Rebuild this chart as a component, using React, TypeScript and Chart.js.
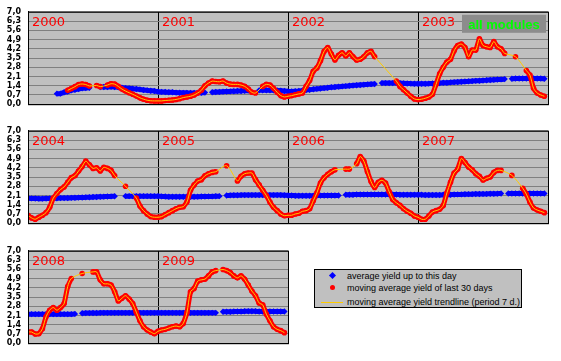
import React, { useEffect, useRef } from 'react';
import { Chart, registerables } from 'chart.js';
Chart.register(...registerables);

const YEARS = ['2000', '2001', '2002', '2003', '2004', '2005', '2006', '2007', '2008', '2009'];
const SAMPLES_PER_YEAR = 36;
const Y_TICKS = [0, 0.7, 1.4, 2.1, 2.8, 3.5, 4.2, 4.9, 5.6, 6.3, 7.0];
const ROWS = [[0, 1, 2, 3], [4, 5, 6, 7], [8, 9]];
const MODULES_LABEL = 'all modules';
const LEGEND_LABELS = [
  'average yield up to this day',
  'moving average yield of last 30 days',
  'moving average yield trendline (period 7 d.)',
];
const N = null;

// moving average yield of last 30 days (36 samples per year)
const RED_2000 = [N, N, N, N, N, N, N, N, N, N, N, 1.05, 1.19, 1.33, 1.49, 1.53, 1.49, 1.38, N, 1.42, 1.33, N, 1.45, 1.55, 1.52, 1.35, 1.15, 1.0, 0.87, 0.75, 0.62, 0.48, 0.38, 0.3, 0.26, 0.25];
const RED_2001 = [0.25, 0.25, 0.28, 0.3, 0.32, 0.36, 0.42, 0.5, 0.55, 0.6, 0.7, 0.85, 1.05, 1.4, 1.6, 1.75, 1.72, 1.7, 1.76, 1.6, 1.52, 1.5, 1.5, 1.45, 1.35, 1.15, 0.9, 0.85, N, 1.35, 1.5, 1.45, 1.2, 0.9, 0.65, 0.55];
const RED_2002 = [0.6, 0.65, 0.72, 0.78, 0.85, 1.35, 1.8, 2.5, 2.75, 3.3, 4.0, 4.3, 3.8, 3.35, 3.7, 3.9, 3.65, 3.9, 3.6, 3.35, 3.4, 3.6, 3.9, 4.0, 3.6, N, N, N, N, N, 1.75, 1.35, 1.1, 0.85, 0.6, 0.4];
const RED_2003 = [0.35, 0.38, 0.45, 0.55, 0.75, 1.5, 2.3, 2.8, 3.2, 3.4, 4.05, 4.45, 4.55, 4.3, 3.6, 4.1, 4.1, 4.95, 4.45, 4.35, 4.3, 4.75, 4.35, 4.2, 3.85, N, N, 3.6, N, N, 2.55, 2.2, 1.2, 0.85, 0.7, 0.6];
const RED_2004 = [0.6, 0.4, 0.3, 0.45, 0.6, 0.8, 1.2, 1.9, 2.25, 2.55, 2.75, 3.1, 3.45, 3.6, 3.95, 4.3, 4.7, 4.42, 4.15, 4.2, 3.96, 4.23, 4.15, 4.0, 3.6, N, N, 2.8, N, N, 1.9, 1.3, 0.95, 0.7, 0.5, 0.45];
const RED_2005 = [0.45, 0.5, 0.65, 0.8, 0.95, 1.1, 1.2, 1.25, 1.6, 2.5, 2.9, 3.2, 3.3, 3.6, 3.75, 3.85, 3.9, N, N, 4.35, N, N, 3.2, 3.55, 3.75, 3.8, 3.8, 3.3, 2.9, 2.5, 2.1, 1.6, 1.2, 0.95, 0.7, 0.57];
const RED_2006 = [0.6, 0.6, 0.7, 0.75, 0.9, 0.95, 1.1, 1.7, 2.3, 3.05, 3.45, 3.7, 3.9, 4.05, N, N, 4.1, 4.1, N, 4.5, 5.05, 4.7, 3.9, 3.15, 2.7, 3.1, 3.25, 3.05, 2.4, 1.8, 1.55, 1.35, 1.1, 0.9, 0.75, 0.55];
const RED_2007 = [0.45, 0.3, 0.3, 0.55, 0.85, 0.95, 1.05, 1.35, 2.3, 3.1, 3.8, 4.1, 4.9, 4.6, 4.25, 4.05, 3.75, 3.55, 3.27, 3.4, 3.5, 3.85, 4.0, 4.0, N, N, 3.62, N, N, 2.65, 2.2, 1.6, 1.15, 1.0, 0.9, 0.8];
const RED_2008 = [0.85, 0.85, 0.7, 0.72, 1.1, 2.0, 2.5, 2.7, 2.5, 2.7, 3.0, 4.3, 4.9, N, N, 5.28, N, N, 5.4, 5.4, 4.8, 4.5, 4.5, 4.4, 3.9, 3.2, 3.4, 3.6, 3.35, 3.0, 2.35, 1.7, 1.25, 1.0, 0.85, 0.72];
const RED_2009 = [0.9, 1.0, 1.05, 1.15, 1.25, 1.3, 1.25, 1.5, 2.3, 3.9, 4.15, 4.7, 4.8, 4.85, 5.1, 5.4, 5.5, N, 5.58, 5.5, 5.35, 5.1, 4.95, 5.1, 4.85, 4.4, 3.95, 3.6, 3.05, 2.9, 2.2, 1.7, 1.25, 1.05, 0.95, 0.8];

// average yield up to this day
const BLUE_2000 = [N, N, N, N, N, N, N, N, 0.8, 0.8, 0.9, 0.95, 1.05, 1.1, 1.15, 1.2, 1.22, 1.25, N, N, 1.3, 1.3, 1.3, 1.32, 1.3, 1.28, 1.25, 1.22, 1.2, 1.17, 1.15, 1.12, 1.08, 1.05, 1.02, 1.0];
const BLUE_2001 = [0.95, 0.93, 0.92, 0.9, 0.9, 0.88, 0.87, 0.86, 0.86, 0.85, 0.85, 0.86, 0.87, 0.88, N, 0.9, 0.92, 0.93, 0.95, 0.96, 0.97, 0.98, 1.0, 1.0, 1.02, 1.03, N, N, 1.05, 1.05, 1.05, 1.05, 1.05, 1.04, 1.03, 1.0];
const BLUE_2002 = [0.97, 0.97, 0.98, 1.0, 1.04, 1.08, 1.1, 1.13, 1.16, 1.19, 1.22, 1.25, 1.28, 1.3, 1.33, 1.35, 1.37, 1.4, 1.42, 1.44, 1.46, 1.48, 1.5, 1.52, 1.53, N, 1.6, 1.6, 1.6, 1.6, 1.6, 1.6, 1.58, 1.57, 1.56, 1.55];
const BLUE_2003 = [1.55, 1.55, 1.55, 1.56, 1.57, 1.58, 1.6, 1.62, 1.63, 1.65, 1.67, 1.68, 1.7, 1.72, 1.73, 1.75, 1.77, 1.78, 1.8, 1.82, 1.83, 1.85, 1.87, 1.88, 1.9, N, 1.93, 1.95, 1.95, 1.95, 1.95, 1.95, 1.95, 1.95, 1.95, 1.93];
const BLUE_2004 = [1.9, 1.88, 1.87, 1.86, 1.86, 1.87, 1.88, 1.88, 1.89, 1.9, 1.9, 1.91, 1.92, 1.93, 1.94, 1.95, 1.96, 1.97, 1.98, 1.99, 2.0, 2.01, 2.02, 2.03, 2.04, N, N, 2.05, 2.05, 2.05, 2.05, 2.05, 2.05, 2.05, 2.05, 2.05];
const BLUE_2005 = [2.05, 2.03, 2.02, 2.0, 2.0, 2.0, 2.0, 2.0, 2.0, 2.0, 2.0, 2.01, 2.02, 2.02, 2.03, 2.03, 2.04, 2.05, N, 2.1, 2.11, 2.12, 2.12, 2.13, 2.13, 2.13, 2.13, 2.13, 2.13, 2.13, 2.13, 2.13, 2.13, 2.13, 2.13, 2.12];
const BLUE_2006 = [2.1, 2.1, 2.08, 2.08, 2.08, 2.08, 2.08, 2.08, 2.09, 2.09, 2.1, 2.1, 2.1, 2.1, 2.1, N, 2.15, 2.16, 2.16, 2.17, 2.17, 2.17, 2.17, 2.17, 2.17, 2.17, 2.17, 2.17, 2.17, 2.17, 2.17, 2.16, 2.16, 2.16, 2.15, 2.15];
const BLUE_2007 = [2.15, 2.15, 2.14, 2.14, 2.14, 2.14, 2.14, 2.15, 2.15, 2.16, 2.17, 2.18, 2.18, 2.19, 2.2, 2.2, 2.21, 2.21, 2.22, 2.22, 2.23, 2.23, 2.24, 2.25, N, 2.25, 2.25, 2.25, 2.25, 2.25, 2.25, 2.25, 2.25, 2.25, 2.25, 2.25];
const BLUE_2008 = [2.2, 2.2, 2.2, 2.2, 2.2, 2.2, 2.2, 2.2, 2.2, 2.2, 2.2, 2.2, 2.2, 2.22, N, 2.27, 2.28, 2.28, 2.29, 2.29, 2.3, 2.3, 2.3, 2.3, 2.3, 2.3, 2.3, 2.3, 2.3, 2.3, 2.3, 2.3, 2.3, 2.3, 2.3, 2.3];
const BLUE_2009 = [2.3, 2.3, 2.3, 2.3, 2.3, 2.3, 2.3, 2.3, 2.3, 2.3, 2.3, 2.3, 2.3, 2.3, 2.3, 2.3, 2.3, N, 2.38, 2.38, 2.38, 2.4, 2.4, 2.4, 2.42, 2.42, 2.42, 2.42, 2.4, 2.4, 2.4, 2.4, 2.4, 2.4, 2.4, 2.4];

const RED_SERIES = [RED_2000, RED_2001, RED_2002, RED_2003, RED_2004, RED_2005, RED_2006, RED_2007, RED_2008, RED_2009];
const BLUE_SERIES = [BLUE_2000, BLUE_2001, BLUE_2002, BLUE_2003, BLUE_2004, BLUE_2005, BLUE_2006, BLUE_2007, BLUE_2008, BLUE_2009];

const BG = '#C0C0C0';
const RED = '#FF0000';
const BLUE = '#0000FF';
const YELLOW = '#FFCC00';

function toPoints(series: (number | null)[][], yearIdx: number[]) {
  const pts: { x: number; y: number | null }[] = [];
  yearIdx.forEach((yi, k) => {
    series[yi].forEach((v, i) => pts.push({ x: k + i / SAMPLES_PER_YEAR, y: v }));
  });
  return pts;
}

function Panel({ yearIdx, top, plotRight, showModules }: { yearIdx: number[]; top: number; plotRight: number; showModules: boolean }) {
  const ref = useRef<HTMLCanvasElement>(null);
  useEffect(() => {
    const canvas = ref.current!;
    const n = yearIdx.length;
    const W = 561;
    const H = 116;
    const plugin = {
      id: 'panelDeco',
      beforeDraw(chart: any) {
        const { ctx, chartArea: a } = chart;
        ctx.save();
        ctx.fillStyle = BG;
        ctx.fillRect(a.left, a.top, a.right - a.left, a.bottom - a.top);
        ctx.restore();
      },
      afterDraw(chart: any) {
        const { ctx, chartArea: a } = chart;
        const xs = chart.scales.x;
        ctx.save();
        ctx.strokeStyle = '#000';
        ctx.lineWidth = 1;
        ctx.strokeRect(a.left + 0.5, a.top + 0.5, a.right - a.left, a.bottom - a.top);
        ctx.font = '13px "DejaVu Sans"';
        ctx.fillStyle = RED;
        ctx.textBaseline = 'alphabetic';
        ctx.textAlign = 'left';
        yearIdx.forEach((yi, k) => {
          ctx.fillText(YEARS[yi], xs.getPixelForValue(k) + 4, a.top + 14);
        });
        if (showModules) {
          const bx = a.right - 86;
          const by = a.top + 3;
          ctx.fillStyle = '#8C8C8C';
          ctx.fillRect(bx, by, 84, 18);
          ctx.fillStyle = '#00FF00';
          ctx.font = 'bold 13px "Liberation Sans", Arial';
          ctx.textAlign = 'center';
          ctx.fillText(MODULES_LABEL, bx + 42, a.top + 17.5);
        }
        ctx.restore();
      },
    };
    const chart = new Chart(canvas, {
      type: 'line',
      data: {
        datasets: [
          {
            label: 'trend',
            data: toPoints(RED_SERIES, yearIdx),
            borderColor: YELLOW,
            borderWidth: 1,
            pointRadius: 0,
            spanGaps: true,
            tension: 0.3,
            order: 0,
          },
          {
            label: 'moving',
            data: toPoints(RED_SERIES, yearIdx),
            borderColor: RED,
            backgroundColor: RED,
            borderWidth: 5,
            pointRadius: 2.8,
            pointBorderWidth: 0,
            spanGaps: false,
            tension: 0.1,
            order: 1,
          },
          {
            label: 'average',
            data: toPoints(BLUE_SERIES, yearIdx),
            borderColor: BLUE,
            backgroundColor: BLUE,
            borderWidth: 5,
            pointStyle: 'rectRot',
            pointRadius: 3.2,
            pointBorderWidth: 0,
            spanGaps: false,
            tension: 0.2,
            order: 2,
          },
        ],
      } as any,
      options: {
        responsive: false,
        animation: false,
        devicePixelRatio: 1,
        layout: { padding: { left: 0, right: W - plotRight, top: 8, bottom: H - 110 } },
        plugins: { legend: { display: false }, tooltip: { enabled: false } },
        scales: {
          x: {
            type: 'linear',
            min: 0,
            max: n,
            afterBuildTicks: (s: any) => {
              s.ticks = Array.from({ length: n + 1 }, (_, k) => ({ value: k }));
            },
            afterFit: (s: any) => {
              s.height = 0;
            },
            ticks: { display: false, autoSkip: false },
            grid: { color: '#000', drawTicks: false },
            border: { color: '#000' },
          },
          y: {
            min: 0,
            max: 7,
            afterBuildTicks: (s: any) => {
              s.ticks = Y_TICKS.map((v) => ({ value: v }));
            },
            afterFit: (s: any) => {
              s.width = 28;
            },
            ticks: {
              autoSkip: false,
              callback: (v: any) => Number(v).toFixed(1).replace('.', ','),
              font: { family: 'DejaVu Sans', size: 8, weight: 'bold' },
              color: '#000',
              padding: 7,
            },
            grid: { color: '#808080', drawTicks: false },
            border: { color: '#000' },
          },
        },
      } as any,
      plugins: [plugin],
    });
    return () => chart.destroy();
  }, []);
  return (
    <canvas
      ref={ref}
      width={561}
      height={116}
      style={{ position: 'absolute', left: 0, top, width: 561, height: 116 }}
    />
  );
}

function Legend() {
  const rows = [6.7, 18.7, 32.7];
  return (
    <div
      style={{
        position: 'absolute',
        left: 314,
        top: 269,
        width: 208,
        height: 39,
        boxSizing: 'border-box',
        border: '1px solid #000',
        background: BG,
        fontFamily: '"Liberation Sans", Arial, sans-serif',
        fontSize: 9,
        color: '#000',
      }}
    >
      <div style={{ position: 'absolute', left: 17 - 2.5, top: rows[0] - 1 - 2.5, width: 5, height: 5, background: BLUE, transform: 'rotate(45deg)' }} />
      <div style={{ position: 'absolute', left: 17 - 2.5, top: rows[1] - 1 - 2.5, width: 5, height: 5, background: RED, borderRadius: '50%' }} />
      <div style={{ position: 'absolute', left: 6, top: rows[2] - 1, width: 22, height: 1, background: YELLOW }} />
      {LEGEND_LABELS.map((t, i) => (
        <div
          key={t}
          style={{ position: 'absolute', left: 32, top: rows[i] - 1 - 6, height: 12, lineHeight: '12px', whiteSpace: 'nowrap' }}
        >
          {t}
        </div>
      ))}
    </div>
  );
}

export default function App() {
  return (
    <div style={{ position: 'absolute', left: 0, top: 0, width: 561, height: 361, background: '#fff' }}>
      <Panel yearIdx={ROWS[0]} top={0} plotRight={548} showModules={true} />
      <Panel yearIdx={ROWS[1]} top={119} plotRight={548} showModules={false} />
      <Panel yearIdx={ROWS[2]} top={239} plotRight={288} showModules={false} />
      <Legend />
    </div>
  );
}
